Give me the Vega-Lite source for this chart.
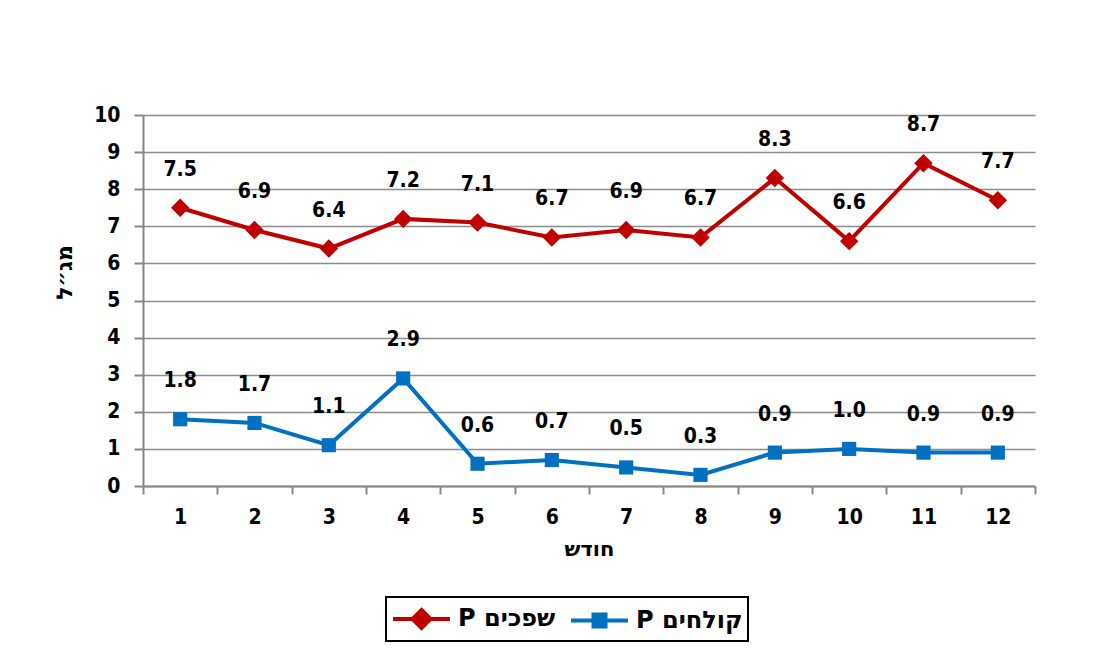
{
  "$schema": "https://vega.github.io/schema/vega-lite/v6.json",
  "autosize": {"type": "none"},
  "width": 892,
  "height": 371,
  "padding": {"left": 143, "top": 115, "right": 75, "bottom": 177},
  "background": "white",
  "data": {
    "values": [
      {"month": 1, "series": "P שפכים", "value": 7.5},
      {"month": 2, "series": "P שפכים", "value": 6.9},
      {"month": 3, "series": "P שפכים", "value": 6.4},
      {"month": 4, "series": "P שפכים", "value": 7.2},
      {"month": 5, "series": "P שפכים", "value": 7.1},
      {"month": 6, "series": "P שפכים", "value": 6.7},
      {"month": 7, "series": "P שפכים", "value": 6.9},
      {"month": 8, "series": "P שפכים", "value": 6.7},
      {"month": 9, "series": "P שפכים", "value": 8.3},
      {"month": 10, "series": "P שפכים", "value": 6.6},
      {"month": 11, "series": "P שפכים", "value": 8.7},
      {"month": 12, "series": "P שפכים", "value": 7.7},
      {"month": 1, "series": "P קולחים", "value": 1.8},
      {"month": 2, "series": "P קולחים", "value": 1.7},
      {"month": 3, "series": "P קולחים", "value": 1.1},
      {"month": 4, "series": "P קולחים", "value": 2.9},
      {"month": 5, "series": "P קולחים", "value": 0.6},
      {"month": 6, "series": "P קולחים", "value": 0.7},
      {"month": 7, "series": "P קולחים", "value": 0.5},
      {"month": 8, "series": "P קולחים", "value": 0.3},
      {"month": 9, "series": "P קולחים", "value": 0.9},
      {"month": 10, "series": "P קולחים", "value": 1.0},
      {"month": 11, "series": "P קולחים", "value": 0.9},
      {"month": 12, "series": "P קולחים", "value": 0.9}
    ]
  },
  "encoding": {
    "x": {
      "field": "month",
      "type": "ordinal",
      "scale": {"type": "band", "paddingInner": 0, "paddingOuter": 0},
      "axis": {
        "title": "חודש",
        "labelAngle": 0,
        "tickBand": "extent",
        "grid": false,
        "tickSize": 8,
        "labelPadding": 12,
        "titlePadding": 11,
        "titleFontSize": 21
      }
    },
    "y": {
      "field": "value",
      "type": "quantitative",
      "scale": {"domain": [0, 10], "nice": false},
      "axis": {
        "title": "מג״ל",
        "values": [0, 1, 2, 3, 4, 5, 6, 7, 8, 9, 10],
        "tickSize": 9,
        "labelPadding": 14,
        "titleFontSize": 22,
        "titleX": -79,
        "titleY": 157,
        "titleBaseline": "middle"
      }
    }
  },
  "layer": [
    {
      "mark": {"type": "line", "strokeWidth": 4},
      "encoding": {
        "color": {
          "field": "series",
          "type": "nominal",
          "scale": {"domain": ["P שפכים", "P קולחים"], "range": ["#C00000", "#0070C0"]},
          "legend": {
            "orient": "none",
            "legendX": 243,
            "legendY": 482,
            "direction": "horizontal",
            "title": null,
            "strokeColor": "black",
            "fillColor": "white",
            "padding": 5,
            "labelFont": "DejaVu Sans",
            "labelFontSize": 24,
            "labelFontWeight": "bold",
            "labelColor": "black",
            "labelLimit": 300,
            "labelOffset": 33,
            "columnPadding": 7,
            "symbolSize": 900,
            "symbolStrokeWidth": 4,
            "symbolOpacity": 1,
            "encode": {
              "symbols": {
                "update": {
                  "shape": {"signal": "datum.value === 'P שפכים' ? 'M-1,0H2.8M0.9,-0.6L1.5,0L0.9,0.6L0.3,0Z' : 'M-1,0H2.8M0.5,-0.4H1.3V0.4H0.5Z'"},
                  "fill": {"signal": "datum.value === 'P שפכים' ? '#C00000' : '#0070C0'"},
                  "stroke": {"signal": "datum.value === 'P שפכים' ? '#C00000' : '#0070C0'"},
                  "size": {"value": 900},
                  "strokeWidth": {"value": 4}
                }
              }
            }
          }
        }
      }
    },
    {
      "transform": [{"filter": "datum.series === 'P שפכים'"}],
      "mark": {"type": "point", "shape": "diamond", "size": 340, "filled": true, "opacity": 1, "color": "#C00000"}
    },
    {
      "transform": [{"filter": "datum.series === 'P קולחים'"}],
      "mark": {"type": "point", "shape": "square", "size": 200, "filled": true, "opacity": 1, "color": "#0070C0"}
    },
    {
      "mark": {
        "type": "text",
        "dy": -38,
        "font": "DejaVu Sans Condensed",
        "fontWeight": "bold",
        "fontSize": 21,
        "color": "black"
      },
      "encoding": {
        "text": {"field": "value", "type": "quantitative", "format": ".1f"}
      }
    }
  ],
  "config": {
    "view": {"stroke": null},
    "legend": {"strokeWidth": 2},
    "axis": {
      "labelFont": "DejaVu Sans Condensed",
      "labelFontWeight": "bold",
      "labelFontSize": 21,
      "labelColor": "black",
      "titleFont": "DejaVu Sans",
      "titleFontWeight": "bold",
      "titleFontSize": 19,
      "titleColor": "black",
      "domainColor": "#868686",
      "domainWidth": 2,
      "tickColor": "#868686",
      "tickWidth": 2,
      "gridColor": "#8c8c8c",
      "gridWidth": 1.5,
      "gridOpacity": 1
    }
  }
}
